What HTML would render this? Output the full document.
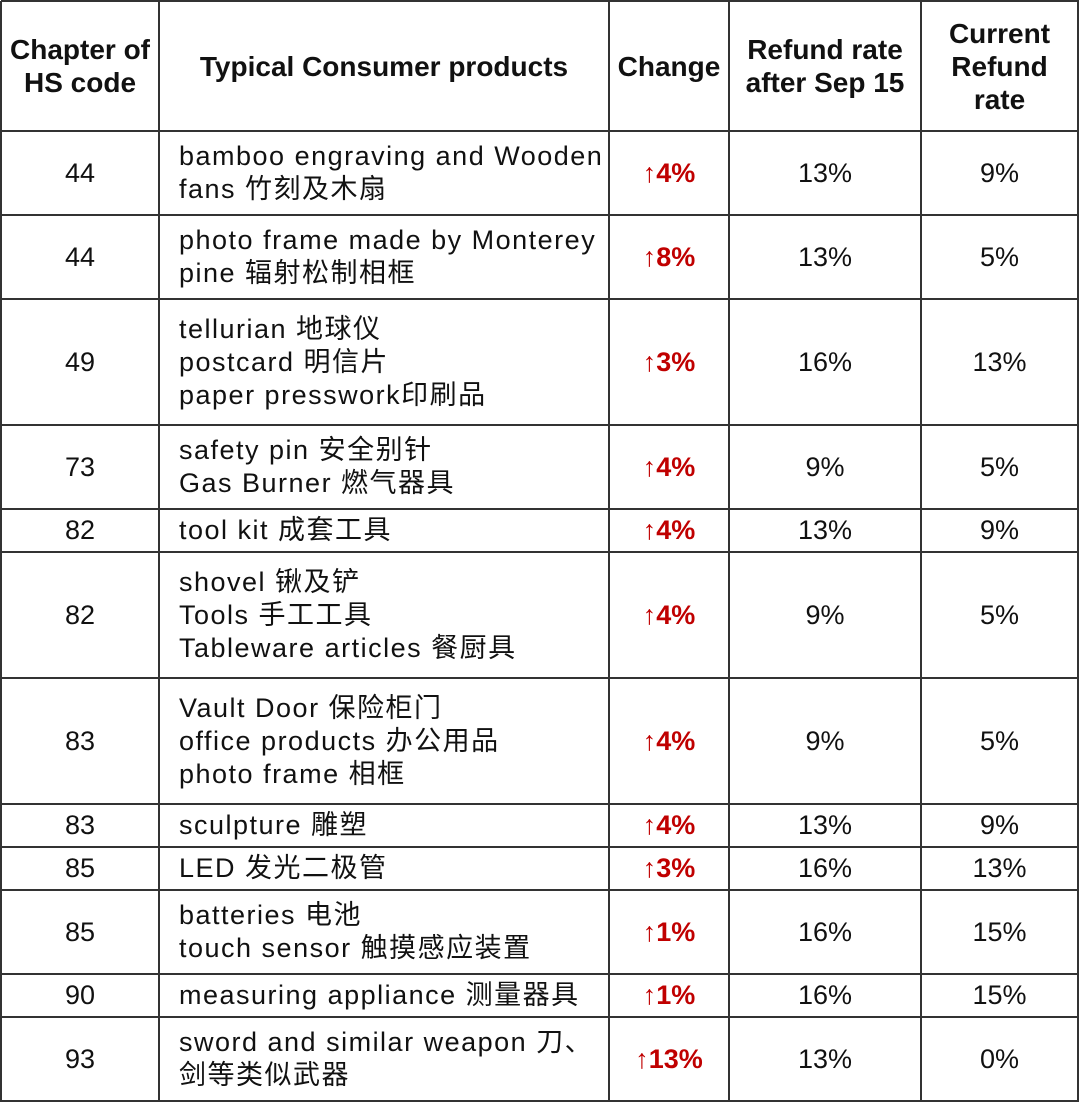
<!DOCTYPE html>
<html><head><meta charset="utf-8"><style>
body{margin:0;background:#fff;width:1080px;height:1109px;position:relative;overflow:hidden;font-family:"Liberation Sans","Noto Sans CJK SC",sans-serif;color:#111}
.h{position:absolute;height:2px;background:#333;left:1px;width:1078px}
.v{position:absolute;width:2px;background:#333;top:1px;height:1101px}
.c{position:absolute;display:flex;align-items:center;justify-content:center;text-align:center;font-size:27px;line-height:33px}
.t{justify-content:flex-start;text-align:left;padding-left:180px;box-sizing:border-box;white-space:nowrap;letter-spacing:1.5px}
.t{padding-left:20px}
.b{font-weight:bold;line-height:33px;font-size:28px}
.r{color:#c00000;font-weight:bold}
</style></head><body>
<div class="h" style="top:0"></div><div class="h" style="top:130px"></div><div class="h" style="top:214px"></div><div class="h" style="top:298px"></div><div class="h" style="top:424px"></div><div class="h" style="top:508px"></div><div class="h" style="top:551px"></div><div class="h" style="top:677px"></div><div class="h" style="top:803px"></div><div class="h" style="top:846px"></div><div class="h" style="top:889px"></div><div class="h" style="top:973px"></div><div class="h" style="top:1016px"></div><div class="h" style="top:1100px"></div>
<div class="v" style="left:0"></div><div class="v" style="left:158px"></div><div class="v" style="left:608px"></div><div class="v" style="left:728px"></div><div class="v" style="left:920px"></div><div class="v" style="left:1077px"></div>
<div id="g"></div>
<script>
var cols=[1,159,609,729,921,1078];
var rows=[1,131,215,299,425,509,552,678,804,847,890,974,1017,1101];
var data=[
["Chapter of<br>HS code","Typical Consumer products","Change","Refund rate<br>after Sep 15","Current<br>Refund<br>rate"],
["44","bamboo engraving and Wooden<br>fans 竹刻及木扇","↑4%","13%","9%"],
["44","photo frame made by Monterey<br>pine 辐射松制相框","↑8%","13%","5%"],
["49","tellurian 地球仪<br>postcard 明信片<br>paper presswork印刷品","↑3%","16%","13%"],
["73","safety pin 安全别针<br>Gas Burner 燃气器具","↑4%","9%","5%"],
["82","tool kit 成套工具","↑4%","13%","9%"],
["82","shovel 锹及铲<br>Tools 手工工具<br>Tableware articles 餐厨具","↑4%","9%","5%"],
["83","Vault Door 保险柜门<br>office products 办公用品<br>photo frame 相框","↑4%","9%","5%"],
["83","sculpture 雕塑","↑4%","13%","9%"],
["85","LED 发光二极管","↑3%","16%","13%"],
["85","batteries 电池<br>touch sensor 触摸感应装置","↑1%","16%","15%"],
["90","measuring appliance 测量器具","↑1%","16%","15%"],
["93","sword and similar weapon 刀、<br>剑等类似武器","↑13%","13%","0%"]];
var h="";
for(var i=0;i<data.length;i++)for(var j=0;j<5;j++){
var cls="c"+(i==0?" b":"")+(i>0&&j==1?" t":"")+(i>0&&j==2?" r":"");
h+='<div class="'+cls+'" style="left:'+cols[j]+'px;width:'+(cols[j+1]-cols[j])+'px;top:'+rows[i]+'px;height:'+(rows[i+1]-rows[i])+'px"><div>'+data[i][j]+'</div></div>';}
document.getElementById("g").innerHTML=h;
</script>
</body></html>
